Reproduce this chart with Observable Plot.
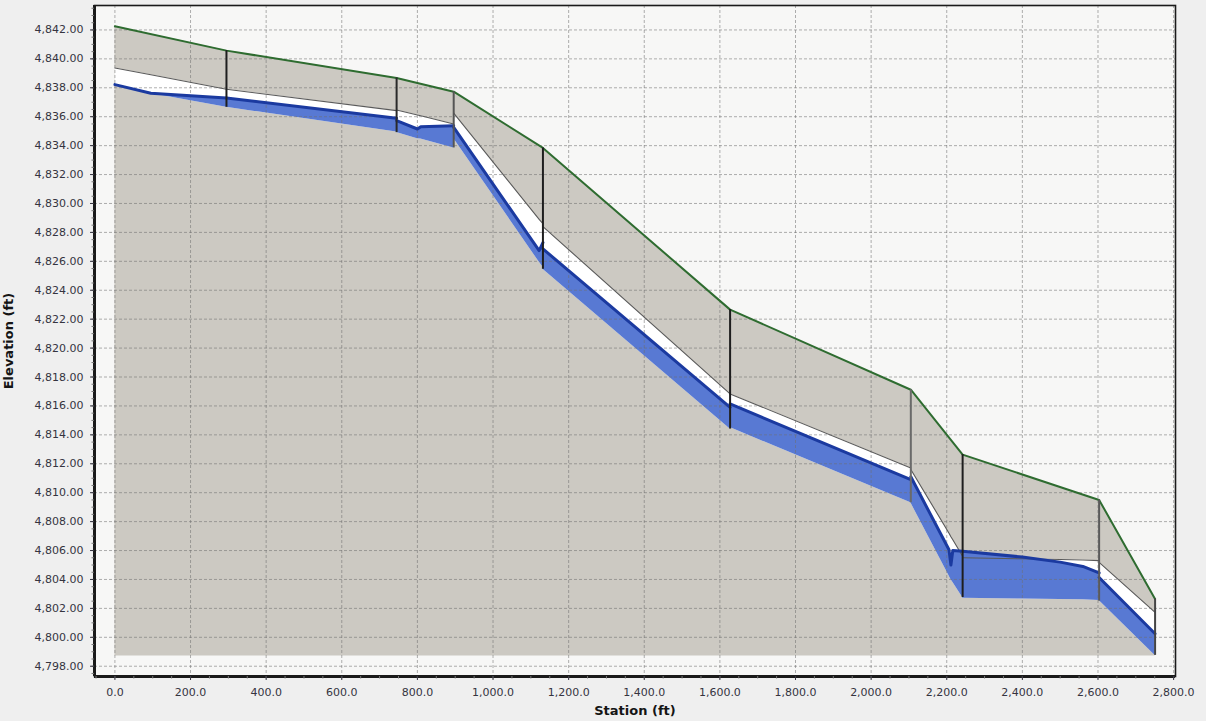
<!DOCTYPE html>
<html>
<head>
<meta charset="utf-8">
<script src="https://cdn.jsdelivr.net/npm/d3@7"></script>
<script src="https://cdn.jsdelivr.net/npm/@observablehq/plot@0.6"></script>
<style>
  html, body { margin: 0; padding: 0; background: #efefef; }
  #chart svg { display: block; }
  #chart g[aria-label="x-axis label"] text,
  #chart g[aria-label="y-axis label"] text { font-weight: bold; font-size: 13px; fill: #151515; }
</style>
</head>
<body>
<div id="chart"></div>
<script>
// ---- Ground surface (green line) ----
const groundStation = [0, 295, 745, 896, 1132, 1627, 2105, 2242, 2603, 2751];
const groundElev    = [4842.25, 4840.57, 4838.68, 4837.73, 4833.84, 4822.66, 4817.12, 4812.63, 4809.5, 4802.65];
const groundBase = 4798.7;

// ---- Pipe profile: segment id, station, crown, HGL, invert ----
const profSeg     = [1, 1, 1,  2, 2,  3, 3, 3, 3,  4, 4, 4,  5, 5,  6, 6,  7, 7, 7, 7, 7,  8, 8, 8, 8, 8,  9, 9];
const profStation = [0, 95, 295,  295, 745,  745, 800, 809, 896,  896, 1122, 1132,  1132, 1627,  1627, 2105,
                     2105, 2206, 2211, 2216, 2242,  2242, 2400, 2500, 2560, 2603,  2603, 2751];
const profCrown   = [4839.37, 4838.9, 4837.9,  4837.9, 4836.42,  4836.47, 4836.12, 4836.06, 4835.5,
                     4836.25, 4828.9, 4828.6,  4828.4, 4816.83,  4816.83, 4811.7,
                     4811.6, 4807.2, 4806.96, 4806.74, 4805.6,  4805.5, 4805.43, 4805.38, 4805.35, 4805.3,
                     4805.18, 4801.72];
const profHgl     = [4838.22, 4837.62, 4837.3,  4837.3, 4835.9,  4835.73, 4835.15, 4835.31, 4835.38,
                     4835.26, 4826.74, 4827.3,  4826.86, 4815.9,  4816.14, 4810.9,
                     4811.1, 4806.05, 4805.0, 4806.0, 4805.95,  4805.95, 4805.55, 4805.2, 4804.9, 4804.45,
                     4804.14, 4800.25];
const profInvert  = [4838.22, 4837.6, 4836.65,  4836.65, 4834.95,  4834.9, 4834.48, 4834.45, 4833.84,
                     4834.5, 4825.95, 4825.6,  4825.45, 4814.4,  4814.5, 4809.3,
                     4809.3, 4804.25, 4804.0, 4803.8, 4802.75,  4802.7, 4802.65, 4802.62, 4802.6, 4802.55,
                     4802.55, 4798.75];

// ---- Manholes (vertical lines) ----
const mhStation = [295, 745, 896, 1132, 1627, 2105, 2242, 2603, 2751];
const mhTop     = [4840.57, 4838.68, 4837.73, 4833.84, 4822.66, 4817.12, 4812.63, 4809.5, 4802.65];
const mhBottom  = [4836.65, 4834.9, 4833.84, 4825.45, 4814.4, 4809.3, 4802.75, 4802.5, 4798.75];
const mhColor   = ["#1e1e1e", "#2a2a2a", "#555555", "#1e1e1e", "#1e1e1e", "#6a6a6a", "#1e1e1e", "#5a5a5a", "#444444"];

// ---- Axis ticks ----
const xTicks = [0, 200, 400, 600, 800, 1000, 1200, 1400, 1600, 1800, 2000, 2200, 2400, 2600, 2800];
const yTicks = [4798, 4800, 4802, 4804, 4806, 4808, 4810, 4812, 4814, 4816, 4818, 4820, 4822, 4824,
                4826, 4828, 4830, 4832, 4834, 4836, 4838, 4840, 4842];
const xMinorStep = 50;
const yMinorStep = 0.5;

// build tables
const ground = groundStation.map((s, i) => ({station: s, elev: groundElev[i], base: groundBase}));
const profile = profStation.map((s, i) => ({
  seg: profSeg[i], station: s, crown: profCrown[i], hgl: profHgl[i], invert: profInvert[i]
}));
const manholes = mhStation.map((s, i) => ({station: s, top: mhTop[i], bottom: mhBottom[i], color: mhColor[i]}));
const xDomain = [-54, 2805];
const yDomain = [4797.29, 4843.69];
const xMinor = d3.range(-50, 2805, xMinorStep);
const yMinor = d3.range(4797.5, 4843.6, yMinorStep);

const chart = Plot.plot({
  width: 1206,
  height: 721,
  marginTop: 5,
  marginRight: 31,
  marginBottom: 45,
  marginLeft: 94,
  x: {domain: xDomain},
  y: {domain: yDomain},
  style: {fontFamily: "DejaVu Sans, Verdana, sans-serif", fontSize: "11px", color: "#35343f", background: "transparent"},
  marks: [
    Plot.frame({fill: "#f7f7f6"}),
    Plot.areaY(ground, {x: "station", y1: "base", y2: "elev", fill: "#ccc9c2"}),
    Plot.areaY(profile, {x: "station", y1: "invert", y2: "crown", z: "seg", fill: "#ffffff"}),
    Plot.areaY(profile, {x: "station", y1: "invert", y2: "hgl", z: "seg", fill: "#5879d3"}),
    Plot.gridX(xTicks, {stroke: "#707070", strokeOpacity: 0.55, strokeDasharray: "3,2"}),
    Plot.gridY(yTicks, {stroke: "#707070", strokeOpacity: 0.55, strokeDasharray: "3,2"}),
    Plot.line(profile, {x: "station", y: "crown", z: "seg", stroke: "#5a5a5a", strokeWidth: 1.1}),
    Plot.line(profile, {x: "station", y: "hgl", z: "seg", stroke: "#1b3aa0", strokeWidth: 3}),
    Plot.line(ground, {x: "station", y: "elev", stroke: "#2e6c30", strokeWidth: 2}),
    Plot.ruleX(manholes, {x: "station", y1: "bottom", y2: "top", stroke: "color", strokeWidth: 2}),
    Plot.frame({stroke: "#1a1a1a", strokeWidth: 1.6}),
    Plot.ruleX([xDomain[0]], {stroke: "#1a1a1a", strokeWidth: 3}),
    Plot.ruleY([yDomain[0]], {stroke: "#1a1a1a", strokeWidth: 3}),
    Plot.axisX({ticks: xMinor, tickSize: 2.5, text: null, label: null, stroke: "#777"}),
    Plot.axisY({ticks: yMinor, tickSize: 2.5, text: null, label: null, stroke: "#777"}),
    Plot.axisX({ticks: xTicks, tickFormat: d3.format(",.1f"), tickSize: 4, tickPadding: 8,
      label: "Station (ft)", labelAnchor: "center", labelOffset: 38, labelArrow: false}),
    Plot.axisY({ticks: yTicks, tickFormat: d3.format(",.2f"), tickSize: 4, tickPadding: 7,
      label: "Elevation (ft)", labelAnchor: "center", labelOffset: 91, labelArrow: false})
  ]
});
document.getElementById("chart").appendChild(chart);
</script>
</body>
</html>
